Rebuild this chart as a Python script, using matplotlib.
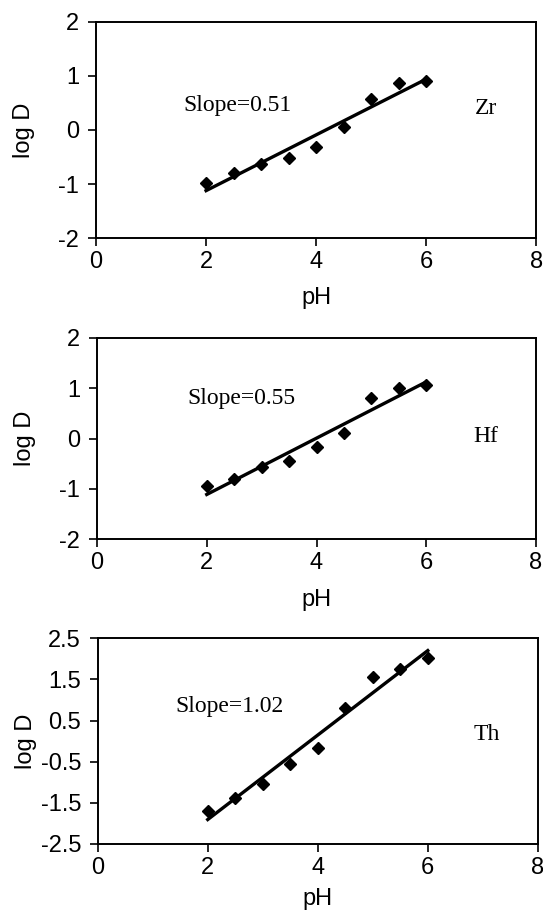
import numpy as np
import matplotlib
matplotlib.use("Agg")
import matplotlib.pyplot as plt

pH = [2, 2.5, 3, 3.5, 4, 4.5, 5, 5.5, 6]
logD_Zr = [-0.97, -0.80, -0.62, -0.51, -0.31, 0.05, 0.58, 0.87, 0.90]
logD_Hf = [-0.95, -0.80, -0.56, -0.45, -0.16, 0.10, 0.81, 1.01, 1.06]
logD_Th = [-1.69, -1.37, -1.03, -0.56, -0.17, 0.80, 1.57, 1.75, 2.03]

elements = ["Zr", "Hf", "Th"]
slope_labels = ["Slope=0.51", "Slope=0.55", "Slope=1.02"]
ylims = [(-2, 2), (-2, 2), (-2.5, 2.5)]
yticks = [[-2, -1, 0, 1, 2], [-2, -1, 0, 1, 2], [-2.5, -1.5, -0.5, 0.5, 1.5, 2.5]]
xticks = [0, 2, 4, 6, 8]

W, H = 543, 911
fig = plt.figure(figsize=(W / 100, H / 100), dpi=100)

# axes boxes in pixels: left, top, right, bottom
boxes = [(96, 21.7, 536.3, 238.3), (97, 337.7, 536, 539.3), (97.7, 638.3, 537.8, 844)]
slope_pos = [(1.59, 0.46), (1.64, 0.80), (1.42, 0.84)]
elem_pos = [(6.89, 0.40), (6.85, 0.04), (6.83, 0.15)]
xlabel_y = [-0.277, -0.301, -0.267]

sans = "Liberation Sans"
serif = "Liberation Serif"

for i, ydata in enumerate([logD_Zr, logD_Hf, logD_Th]):
    l, t, r, b = boxes[i]
    ax = fig.add_axes([l / W, 1 - b / H, (r - l) / W, (b - t) / H])
    x = np.array(pH)
    y = np.array(ydata)
    k, c = np.polyfit(x, y, 1)
    ax.plot([x[0], x[-1]], [k * x[0] + c, k * x[-1] + c], color="black", lw=2.4, zorder=2)
    ax.plot(x, y, linestyle="none", marker="D", markersize=6.5, color="black", zorder=3)
    ax.set_xlim(0, 8)
    ax.set_ylim(*ylims[i])
    ax.set_xticks(xticks)
    ax.set_yticks(yticks[i])
    ax.set_xticklabels([str(v) for v in xticks], fontfamily=sans, fontsize=17)
    ax.set_yticklabels([("%g" % v) for v in yticks[i]], fontfamily=sans, fontsize=17)
    ax.tick_params(direction="out", length=6, width=1.2, color="black")
    ax.tick_params(axis="y", pad=6)
    ax.tick_params(axis="x", pad=3)
    for s in ax.spines.values():
        s.set_linewidth(1.4)
    ax.set_xlabel("pH", fontfamily=sans, fontsize=17, va="center")
    ax.set_ylabel("log D", fontfamily=sans, fontsize=17, va="center")
    ax.xaxis.set_label_coords(0.5, xlabel_y[i])
    ax.yaxis.set_label_coords(-0.1635, 0.5)
    ax.text(slope_pos[i][0], slope_pos[i][1], slope_labels[i], fontfamily=serif,
            fontsize=17, ha="left", va="center")
    ax.text(elem_pos[i][0], elem_pos[i][1], elements[i], fontfamily=serif,
            fontsize=17, ha="left", va="center")

fig.savefig("out.png", dpi=100)
